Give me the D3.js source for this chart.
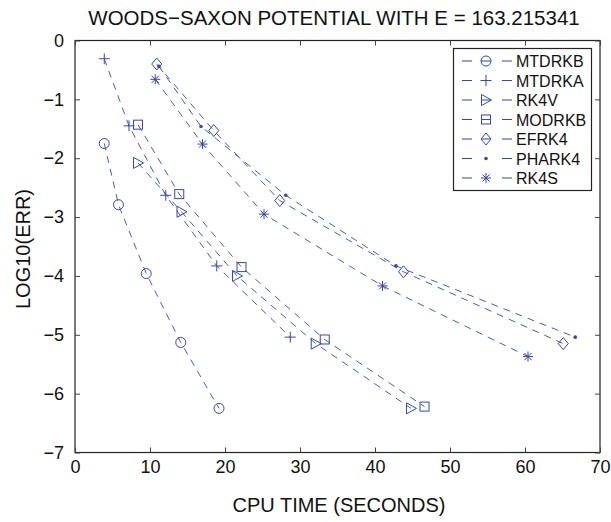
<!DOCTYPE html>
<html>
<head>
<meta charset="utf-8">
<script src="https://cdn.jsdelivr.net/npm/d3@7"></script>
<style>
  body { margin: 0; background: #fff; }
  svg { display: block; font-family: "Liberation Sans", Arial, sans-serif; }
</style>
</head>
<body>
<svg id="chart" width="611" height="522"></svg>
<script>
// ---- data ----
var seriesNames = ["MTDRKB", "MTDRKA", "RK4V", "MODRKB", "EFRK4", "PHARK4", "RK4S"];
var markerTypes = ["circle", "plus", "triangle", "square", "diamond", "dot", "star"];

var mtdrkbX = [3.9, 5.8, 9.5, 14.1, 19.2];
var mtdrkbY = [-1.75, -2.79, -3.96, -5.13, -6.25];
var mtdrkaX = [3.9, 7.2, 12.1, 18.9, 28.7];
var mtdrkaY = [-0.31, -1.45, -2.63, -3.83, -5.04];
var rk4vX = [8.4, 14.2, 21.6, 32.1, 44.8];
var rk4vY = [-2.08, -2.91, -4.0, -5.15, -6.25];
var modrkbX = [8.4, 13.9, 22.2, 33.3, 46.6];
var modrkbY = [-1.43, -2.61, -3.85, -5.08, -6.22];
var efrk4X = [10.9, 18.5, 27.3, 43.8, 65.1];
var efrk4Y = [-0.40, -1.53, -2.72, -3.93, -5.15];
var phark4X = [11.2, 16.8, 28.1, 42.8, 66.7];
var phark4Y = [-0.44, -1.46, -2.63, -3.83, -5.04];
var rk4sX = [10.7, 17.0, 25.2, 41.0, 60.4];
var rk4sY = [-0.66, -1.76, -2.95, -4.17, -5.37];

var xTicks = [0, 10, 20, 30, 40, 50, 60, 70];
var yTicks = [0, -1, -2, -3, -4, -5, -6, -7];

var allX = [mtdrkbX, mtdrkaX, rk4vX, modrkbX, efrk4X, phark4X, rk4sX];
var allY = [mtdrkbY, mtdrkaY, rk4vY, modrkbY, efrk4Y, phark4Y, rk4sY];

var series = seriesNames.map(function (name, i) {
    return {
        name: name,
        marker: markerTypes[i],
        points: allX[i].map(function (x, j) { return [x, allY[i][j]]; })
    };
});

// ---- layout ----
var color = "#3547ae";
var plotLeft = 75, plotRight = 600, plotTop = 40.5, plotBottom = 452.5;

var svg = d3.select("#chart");
var x = d3.scaleLinear().domain([0, 70]).range([plotLeft, plotRight]);
var y = d3.scaleLinear().domain([-7, 0]).range([plotBottom, plotTop]);

//half width of each marker (used for the legend line through it)
var markerHalf = { circle: 5, plus: 0, triangle: 5, square: 4.5, diamond: 5, dot: 0, star: 0 };

//draws one marker at (cx, cy)
function drawMarker(g, type, cx, cy) {
    var s = g.append("g").attr("transform", "translate(" + cx + "," + cy + ")")
        .attr("fill", "none").attr("stroke", color).attr("stroke-width", 1);
    if (type == "circle") {
        s.append("circle").attr("r", 5);
    } else if (type == "plus") {
        s.append("path").attr("d", "M-5.5,0H5.5M0,-5.5V5.5");
    } else if (type == "triangle") {
        s.append("path").attr("d", "M-4.5,-5.5L5.5,0L-4.5,5.5Z");
    } else if (type == "square") {
        s.append("rect").attr("x", -4.5).attr("y", -4.5).attr("width", 9).attr("height", 9);
    } else if (type == "diamond") {
        s.append("path").attr("d", "M0,-6L5,0L0,6L-5,0Z");
    } else if (type == "dot") {
        s.append("circle").attr("r", 1.8).attr("fill", color).attr("stroke", "none");
    } else if (type == "star") {
        s.append("path").attr("d", "M-5,0H5M0,-5V5M-3.6,-3.6L3.6,3.6M-3.6,3.6L3.6,-3.6");
    }
}

// frame
svg.append("rect")
    .attr("x", plotLeft).attr("y", plotTop)
    .attr("width", plotRight - plotLeft).attr("height", plotBottom - plotTop)
    .attr("fill", "none").attr("stroke", "#222").attr("stroke-width", 1.2);

// axes with inward ticks
var fmt = function (d) { return d < 0 ? "\u2212" + Math.abs(d) : d; };

var xAxis = svg.append("g").attr("transform", "translate(0," + plotBottom + ")")
    .call(d3.axisBottom(x).tickValues(xTicks).tickSizeInner(-5).tickSizeOuter(0).tickPadding(8).tickFormat(fmt));
var xAxisTop = svg.append("g").attr("transform", "translate(0," + plotTop + ")")
    .call(d3.axisTop(x).tickValues(xTicks).tickSizeInner(-5).tickSizeOuter(0).tickFormat(""));
var yAxis = svg.append("g").attr("transform", "translate(" + plotLeft + ",0)")
    .call(d3.axisLeft(y).tickValues(yTicks).tickSizeInner(-5).tickSizeOuter(0).tickPadding(11).tickFormat(fmt));
var yAxisRight = svg.append("g").attr("transform", "translate(" + plotRight + ",0)")
    .call(d3.axisRight(y).tickValues(yTicks).tickSizeInner(-5).tickSizeOuter(0).tickFormat(""));

[xAxis, xAxisTop, yAxis, yAxisRight].forEach(function (a) {
    a.select(".domain").remove();
    a.selectAll("line").attr("stroke", "#444");
    a.selectAll("text").attr("fill", "#111").style("font-size", "18px")
        .style("font-family", "'Liberation Sans', Arial, sans-serif");
});

// series lines and markers
var line = d3.line().x(function (d) { return x(d[0]); }).y(function (d) { return y(d[1]); });

series.forEach(function (s) {
    svg.append("path")
        .attr("d", line(s.points))
        .attr("fill", "none")
        .attr("stroke", color)
        .attr("stroke-width", 0.9)
        .attr("stroke-dasharray", "7,6");
    var g = svg.append("g");
    s.points.forEach(function (p) { drawMarker(g, s.marker, x(p[0]), y(p[1])); });
});

// legend
var legend = svg.append("g");
legend.append("rect")
    .attr("x", 453.5).attr("y", 48.5).attr("width", 138).attr("height", 142)
    .attr("fill", "#fff").attr("stroke", "#222").attr("stroke-width", 1.2);

series.forEach(function (s, i) {
    var ly = 61 + i * 19.5;
    var h = markerHalf[s.marker];
    var d = "M462," + ly + "H472M502," + ly + "H512";
    if (h > 0) d += "M" + (486 - h) + "," + ly + "H" + (486 + h);
    legend.append("path")
        .attr("d", d)
        .attr("stroke", color).attr("stroke-width", 1);
    drawMarker(legend, s.marker, 486, ly);
    legend.append("text")
        .attr("x", 516).attr("y", ly + 6)
        .attr("fill", "#111").style("font-size", "16px")
        .text(s.name);
});

// titles
svg.append("text")
    .attr("x", 334).attr("y", 25)
    .attr("text-anchor", "middle").attr("fill", "#111").style("font-size", "20.5px")
    .text("WOODS\u2212SAXON POTENTIAL WITH E = 163.215341");

svg.append("text")
    .attr("x", 339).attr("y", 512)
    .attr("text-anchor", "middle").attr("fill", "#111").style("font-size", "20px")
    .text("CPU TIME (SECONDS)");

svg.append("text")
    .attr("transform", "translate(30,249) rotate(-90)")
    .attr("text-anchor", "middle").attr("fill", "#111").style("font-size", "20px")
    .text("LOG10(ERR)");
</script>
</body>
</html>
